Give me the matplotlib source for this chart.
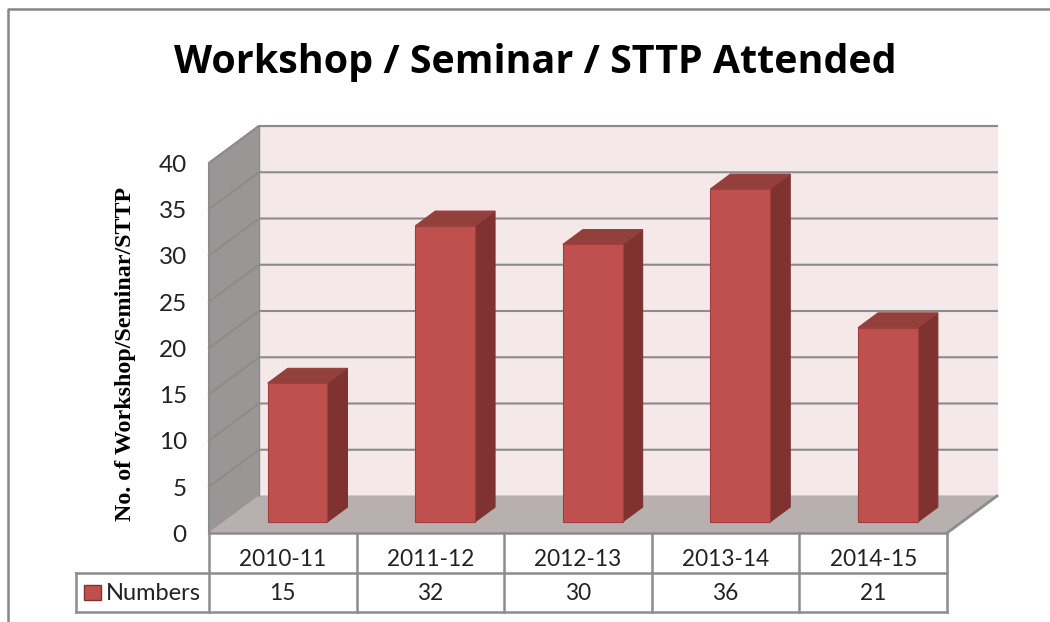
import matplotlib
matplotlib.use("Agg")
import matplotlib.pyplot as plt
from matplotlib.patches import Polygon, Rectangle

# values
years = ["2010-11", "2011-12", "2012-13", "2013-14", "2014-15"]
numbers = [15, 32, 30, 36, 21]
yticks = [0, 5, 10, 15, 20, 25, 30, 35, 40]
series_name = "Numbers"
title = "Workshop / Seminar / STTP Attended"
ylabel = "No. of Workshop/Seminar/STTP"

W, H = 1050, 622
LEFT, RIGHT, BOTTOM, TOP = 209, 947, 533, 163

# 3d look: how far the back wall is shifted from the front, in data units
DX = 50 / (RIGHT - LEFT) * len(years)
DY = 37 / (BOTTOM - TOP) * 40
BAR_W = 0.405

C_FRONT, C_SIDE, C_TOP = "#C0504D", "#7F3230", "#93403D"
C_EDGE = "#9E3F3C"
C_GRID = "#8C8C8C"
C_BACK, C_WALL, C_FLOOR = "#F4E8E8", "#9B9696", "#B8AFAF"
C_TEXT = "#222222"

fig = plt.figure(figsize=(W / 100, H / 100), dpi=100)
ax = fig.add_axes([LEFT / W, 1 - BOTTOM / H, (RIGHT - LEFT) / W, (BOTTOM - TOP) / H])
ax.set_xlim(0, len(years))
ax.set_ylim(0, 40)
ax.axis("off")


def poly(pts, color, z, edge=None):
    ax.add_patch(Polygon(pts, closed=True, facecolor=color, edgecolor=edge or color,
                         linewidth=0.8, clip_on=False, zorder=z))


def line(xs, ys, z=2, lw=1.8, color=C_GRID):
    ax.plot(xs, ys, color=color, linewidth=lw, clip_on=False, zorder=z,
            solid_capstyle="projecting")


n = len(years)
# walls and floor
poly([(DX, DY), (n + DX, DY), (n + DX, 40 + DY), (DX, 40 + DY)], C_BACK, 1)
poly([(0, 0), (DX, DY), (DX, 40 + DY), (0, 40)], C_WALL, 1)
poly([(0, 0), (n, 0), (n + DX, DY), (DX, DY)], C_FLOOR, 1)

for t in yticks:
    if t > 0:
        line([0, DX, n + DX], [t, t + DY, t + DY], lw=1.5)
    ax.text(-0.15, t - 0.25, str(t), ha="right", va="center", fontsize=17.5,
            family="Lato", color=C_TEXT, clip_on=False)
line([0, 0, DX, n + DX], [0, 40, 40 + DY, 40 + DY], lw=1.5)
line([DX, DX], [DY, 40 + DY], lw=1)
line([n, n + DX], [0, DY], lw=2)

# bars stand part way into the floor
for i, v in enumerate(numbers):
    x0 = i + 0.5 + 0.295 * DX - BAR_W / 2
    x1 = x0 + BAR_W
    y0 = 0.3 * DY
    y1 = y0 + v
    sx, sy = 0.4 * DX, 0.4 * DY
    poly([(x1, y0), (x1 + sx, y0 + sy), (x1 + sx, y1 + sy), (x1, y1)], C_SIDE, 3)
    poly([(x0, y1), (x1, y1), (x1 + sx, y1 + sy), (x0 + sx, y1 + sy)], C_TOP, 3)
    poly([(x0, y0), (x1, y0), (x1, y1), (x0, y1)], C_FRONT, 4, edge=C_EDGE)

# data table under the plot
unit = 40 / (BOTTOM - TOP)
row1 = -40 * unit
row2 = -79 * unit
name_left = -(LEFT - 76) / (RIGHT - LEFT) * n

line([0, n], [0, 0], z=2)
line([name_left, n], [row1, row1])
line([name_left, n], [row2, row2])
line([name_left, name_left], [row1, row2])
for i in range(n + 1):
    line([i, i], [0, row2])

for i, (yr, v) in enumerate(zip(years, numbers)):
    ax.text(i + 0.5, row1 * 0.65, yr, ha="center", va="center", fontsize=16.3,
            family="Lato", color=C_TEXT, clip_on=False)
    ax.text(i + 0.5, (row1 + row2) / 2 - 0.1, str(v), ha="center", va="center", fontsize=16.3,
            family="Lato", color=C_TEXT, clip_on=False)

ax.add_patch(Rectangle((name_left + 0.055, (row1 + row2) / 2 - 0.85), 0.115, 1.7,
                       facecolor=C_FRONT, edgecolor=C_SIDE, linewidth=1, clip_on=False, zorder=4))
ax.text(name_left + 0.2, (row1 + row2) / 2 - 0.1, series_name, ha="left", va="center",
        fontsize=17, family="Lato", color=C_TEXT, clip_on=False)

# title, axis label and the outer chart frame
fig.text(535 / W, 1 - 62 / H, title, ha="center", va="center", fontsize=28.4,
         fontweight="bold", family="Open Sans", color="black")
fig.text(125 / W, 1 - 354 / H, ylabel, ha="center", va="center", rotation=90,
         fontsize=17.3, fontweight="bold", family="Liberation Serif", color="black")
fig.add_artist(plt.Line2D([8 / W, 8 / W, 1], [0, 1 - 9 / H, 1 - 9 / H],
                          color="#868686", linewidth=1.8))

plt.savefig("out.png", dpi=100)
